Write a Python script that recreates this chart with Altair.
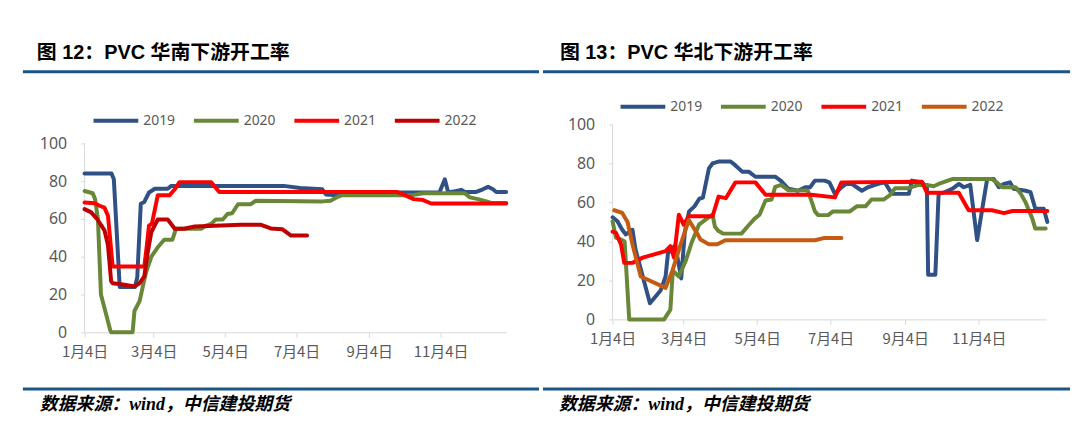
import altair as alt
import pandas as pd

# ---------------- data ----------------
YEARS = ["2019", "2020", "2021", "2022"]
TICK_DAYS = [0, 59, 120, 181, 243, 304]
TICK_LABELS = ["1月4日", "3月4日", "5月4日", "7月4日", "9月4日", "11月4日"]
Y_TICKS = [0, 20, 40, 60, 80, 100]

# South China (图 12) -- day offset from Jan 4, operating rate
S19_day = [0, 23, 25, 30, 43, 45, 48, 51, 55, 60, 71, 74, 170, 184, 203, 206, 216, 222, 303, 307.6, 310.5, 317.5, 321.8, 324.6, 334.5, 340, 344.5, 348.7, 351.5, 360]
S19_val = [84, 84, 81, 24, 24, 29, 68, 69, 74, 76, 76, 77.5, 77.5, 76.4, 75.7, 73, 72.5, 74, 74, 81, 74, 74.8, 75.4, 74.3, 74.3, 75.7, 77, 75.7, 74.3, 74.3]
S20_day = [0, 7, 9, 11.4, 14, 22, 22.7, 41, 42.6, 47, 50, 52.6, 57, 62.5, 68, 75, 78, 99.5, 104, 108, 112, 118, 122, 126, 131, 142, 146, 203, 210, 215, 220, 280, 289, 324.6, 329, 336, 343, 348, 360]
S20_val = [74.8, 73.6, 70.4, 60, 20, 1, 0, 0, 11.3, 16.5, 25, 32, 40, 45, 49, 49, 54.8, 54.8, 56.5, 57.4, 59.7, 59.7, 62.6, 63, 67.8, 67.8, 69.6, 69.3, 69.6, 71.4, 72.6, 72.6, 73.6, 73.6, 71.4, 70.5, 69.3, 68.4, 68.4]
S21_day = [0, 8.5, 12.8, 17, 20, 24, 51, 53, 55, 57.5, 62.5, 72.5, 77, 81, 108, 115, 266.5, 272, 281, 289, 296, 360]
S21_val = [68.7, 68.3, 67, 66, 61.7, 34.8, 34.8, 45, 56.5, 57.5, 72.5, 72.5, 75.7, 79.5, 79.5, 74.3, 74.3, 73, 70.5, 70, 68.2, 68.2]
S22_day = [0, 5.7, 11, 17, 20, 22.7, 24, 34, 42.6, 47, 51, 54, 57, 62.5, 71, 77, 85, 94, 133.6, 150.7, 159, 169, 176, 190]
S22_val = [65.2, 63.5, 59.7, 54, 46, 27, 26, 25.2, 24.3, 26, 29.6, 42.6, 53, 59.7, 59.7, 54.8, 54.8, 56, 56.9, 56.9, 55, 54.5, 51.3, 51.3]

# North China (图 13)
N19_day = [0, 4, 8, 11, 16.5, 19, 31, 40, 44, 46, 52, 55, 57, 60, 63.5, 68, 72, 75, 80, 83, 88, 98, 102, 107.6, 113, 118.6, 135, 140, 146, 154, 160, 164, 168, 176, 180, 184.6, 190, 194, 198.5, 207, 212, 218, 223.5, 226, 232, 246, 248.5, 257, 261, 262, 268, 270.7, 276, 282, 287.6, 291.6, 297, 302.7, 311, 316.5, 320.7, 325, 330, 333, 343, 347, 351, 358, 361]
N19_val = [52.4, 50.3, 46, 43.6, 46, 36, 8.3, 15, 22, 34, 38, 28, 21, 45, 55.4, 58, 61.9, 62.5, 77.5, 80, 81, 81, 79, 75.8, 75.8, 73.2, 73.2, 71, 67, 66, 67.8, 67.8, 71.2, 71.2, 70.3, 64.4, 67.8, 69.5, 69.5, 66, 67.8, 69, 70, 70.3, 64.4, 64.4, 71.2, 70.3, 67.8, 22.9, 22.9, 64.4, 65.3, 67, 69.5, 67.8, 69, 40.7, 72, 72, 67.8, 69.5, 70.3, 67, 66, 65.3, 56.8, 56.8, 50]
N20_day = [0, 2.8, 7, 10, 13.8, 42.8, 48, 50, 55, 60.7, 66, 71.7, 80, 83, 85, 88, 92, 107, 113, 118, 122, 127, 132, 135, 140, 146, 162, 165, 168, 170.7, 179, 183, 197, 202.7, 210, 215, 225, 230, 234.6, 245.7, 254, 261, 266.6, 270.7, 276, 282, 315, 319, 323.5, 334.7, 339, 343, 348.5, 351, 359.6]
N20_val = [50.3, 42, 41, 40, 0, 0, 5, 25, 22, 30, 40, 48.6, 52.5, 53.7, 47.5, 45.3, 44, 44, 48.3, 51.7, 53.7, 61, 61.5, 68, 69, 66.2, 66.2, 61, 55.4, 53.5, 53.5, 55.4, 55.4, 58, 58, 61.5, 61.5, 63.6, 67.3, 67.3, 69, 69, 68.3, 69.5, 70.7, 72, 72, 70.3, 67.8, 67.8, 64.4, 60, 51.7, 46.6, 46.6]
N21_day = [0, 2.8, 7, 9.7, 16.5, 25, 44, 48, 51, 55, 59, 63.4, 83, 88, 94, 102, 118.6, 127, 165, 184.6, 190, 256.8, 261, 287.4, 295.7, 315, 325, 332, 361]
N21_val = [45, 44.4, 38.5, 29, 29, 31.7, 35, 37.6, 31.7, 53.7, 48.6, 52.9, 52.9, 63, 62.2, 70.3, 70.3, 63.9, 63.9, 62.6, 70.3, 70.6, 65, 65, 56, 56, 54.5, 55.6, 55.6]
N22_day = [1.4, 8, 12.4, 16.5, 23.4, 44, 49.7, 56.5, 63.3, 69, 73, 80, 87, 93.6, 168, 176, 190]
N22_val = [56, 54.6, 50, 38.5, 22, 16.2, 25, 38.5, 51, 45.3, 41, 38.5, 38.5, 40.6, 40.6, 41.8, 41.8]

LEFT_COLORS = ["#2F5186", "#688838", "#FF0000", "#C00000"]
RIGHT_COLORS = ["#2F5186", "#688838", "#FF0000", "#C55A11"]


def long_df(series):
    rows = []
    for year, days, vals in series:
        for d, v in zip(days, vals):
            rows.append({"day": d, "val": v, "year": year})
    return pd.DataFrame(rows)


left_df = long_df([("2019", S19_day, S19_val), ("2020", S20_day, S20_val),
                   ("2021", S21_day, S21_val), ("2022", S22_day, S22_val)])
right_df = long_df([("2019", N19_day, N19_val), ("2020", N20_day, N20_val),
                    ("2021", N21_day, N21_val), ("2022", N22_day, N22_val)])

label_expr = " : ".join(f"datum.value == {d} ? '{l}'" for d, l in zip(TICK_DAYS, TICK_LABELS)) + " : ''"

CJK = "Noto Sans CJK SC"
TITLE_FONT = "Liberation Sans, Noto Sans CJK SC"
SRC_FONT = "Liberation Serif, Noto Sans CJK SC"
AXIS_GREY = "#D9D9D9"
TEXT_GREY = "#595959"
RULE_BLUE = "#1B5586"

# common plot origin (page coords): y = 122 for both panels
TOP = dict(title_y=-66, rule_top_y=-53, rule_bot_y=266, src_y=287)

X_AXIS = alt.Axis(values=TICK_DAYS, labelExpr=label_expr, title=None, grid=False,
                  domainColor=AXIS_GREY, tickColor=AXIS_GREY, tickSize=5,
                  labelFontSize=15, labelColor=TEXT_GREY, labelFont=CJK,
                  labelPadding=7, labelFlush=False, labelOverlap=False)
Y_AXIS = alt.Axis(values=Y_TICKS, title=None, grid=False, domain=False,
                  tickColor=AXIS_GREY, tickSize=4,
                  labelFontSize=16, labelColor=TEXT_GREY, labelFont="Noto Sans",
                  labelPadding=14)


def panel(df, colors, w, h, ymax, title, leg_x, leg_y, rule_x1, rule_x2, title_x, src_x):
    xs = alt.Scale(domain=[0, 360], nice=False, zero=False)
    ys = alt.Scale(domain=[0, ymax], nice=False)
    lines = alt.Chart(df).mark_line(strokeWidth=4, strokeCap="round", strokeJoin="round").encode(
        x=alt.X("day:Q", scale=xs, axis=X_AXIS),
        y=alt.Y("val:Q", scale=ys, axis=Y_AXIS),
        color=alt.Color("year:N", scale=alt.Scale(domain=YEARS, range=colors),
                        legend=alt.Legend(orient="none", legendX=leg_x, legendY=leg_y,
                                          direction="horizontal", title=None,
                                          symbolType="stroke", symbolSize=2025,
                                          symbolStrokeWidth=4, labelFontSize=14,
                                          labelColor=TEXT_GREY, labelFont="Noto Sans",
                                          labelOffset=3, columnPadding=10, padding=0)),
        order=alt.Order("day:Q"),
    )
    # y axis line from 0 to 100 (through the y scale)
    axis_line = alt.Chart(pd.DataFrame({"day": [0], "val": [0], "val2": [100]})).mark_rule(
        color=AXIS_GREY, strokeWidth=1).encode(
        x=alt.X("day:Q", scale=xs, axis=X_AXIS), y=alt.Y("val:Q", scale=ys, axis=Y_AXIS),
        y2="val2:Q")
    one = pd.DataFrame({"k": [0]})
    title_t = alt.Chart(one).mark_text(align="left", baseline="alphabetic", font=TITLE_FONT,
                                       fontSize=20, fontWeight="bold", color="#000000").encode(
        x=alt.value(title_x), y=alt.value(TOP["title_y"]), text=alt.value(title))
    rule_top = alt.Chart(one).mark_rule(color=RULE_BLUE, strokeWidth=3).encode(
        x=alt.value(rule_x1), x2=alt.value(rule_x2), y=alt.value(TOP["rule_top_y"]))
    rule_bot = alt.Chart(one).mark_rule(color=RULE_BLUE, strokeWidth=3).encode(
        x=alt.value(rule_x1), x2=alt.value(rule_x2), y=alt.value(TOP["rule_bot_y"]))
    src = alt.Chart(one).mark_text(align="left", baseline="alphabetic", font=SRC_FONT,
                                   fontSize=18, fontWeight="bold", fontStyle="italic",
                                   color="#000000").encode(
        x=alt.value(src_x), y=alt.value(TOP["src_y"]), text=alt.value("数据来源：wind，中信建投期货"))
    return alt.layer(axis_line, lines, title_t, rule_top, rule_bot, src).properties(width=w, height=h)


# left plot: 0 at page y 331, 100 at 141 -> extend domain to reach common top at 122
left = panel(left_df, LEFT_COLORS, 424, 209, 110, "图 12：PVC 华南下游开工率",
             7, -28.5, -62, 457, -48, -45)
right = panel(right_df, RIGHT_COLORS, 436, 196, 100, "图 13：PVC 华北下游开工率",
              6, -42.5, -70, 460, -53, -54)

chart = alt.hconcat(left, right, spacing=0).resolve_scale(
    color="independent", x="independent", y="independent"
).resolve_legend(color="independent").properties(
    padding={"left": 13, "top": 34, "right": 0, "bottom": 0}
).configure_view(stroke=None)

chart.save("out.html", embed_options={"renderer": "svg", "actions": False})
